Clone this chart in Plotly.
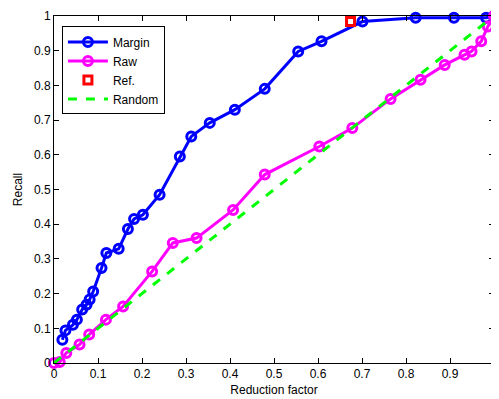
import plotly.graph_objects as go

margin_x = [0.019, 0.026, 0.043, 0.052, 0.064, 0.074, 0.081, 0.089, 0.108, 0.119, 0.147, 0.168, 0.182, 0.202,
            0.240, 0.286, 0.312, 0.354, 0.411, 0.479, 0.555, 0.608, 0.701, 0.822, 0.909, 0.982, 1.0]
margin_y = [0.067, 0.094, 0.110, 0.125, 0.154, 0.168, 0.183, 0.206, 0.274, 0.317, 0.329, 0.386, 0.415, 0.427,
            0.485, 0.595, 0.653, 0.692, 0.730, 0.790, 0.898, 0.927, 0.984, 0.995, 0.995, 0.995, 1.0]

raw_x = [0.0, 0.013, 0.028, 0.058, 0.080, 0.118, 0.157, 0.223, 0.270, 0.324, 0.407, 0.479, 0.603, 0.678,
         0.765, 0.833, 0.888, 0.933, 0.949, 0.971, 0.986, 1.0]
raw_y = [0.0, 0.003, 0.029, 0.053, 0.082, 0.125, 0.163, 0.264, 0.346, 0.360, 0.441, 0.543, 0.624, 0.677,
         0.761, 0.816, 0.859, 0.888, 0.898, 0.927, 0.970, 1.0]

ref_x = [0.674]
ref_y = [0.984]

random_x = [0.0, 1.0]
random_y = [0.0, 1.0]

xticks = [0, 0.1, 0.2, 0.3, 0.4, 0.5, 0.6, 0.7, 0.8, 0.9, 1]
yticks = [0, 0.1, 0.2, 0.3, 0.4, 0.5, 0.6, 0.7, 0.8, 0.9, 1]

fig = go.Figure()
fig.add_trace(go.Scatter(x=margin_x, y=margin_y, name="Margin", mode="lines+markers",
                         line=dict(color="#0000FF", width=3),
                         marker=dict(symbol="circle-open", size=9, color="#0000FF", line=dict(width=3)),
                         cliponaxis=False))
fig.add_trace(go.Scatter(x=raw_x, y=raw_y, name="Raw", mode="lines+markers",
                         line=dict(color="#FF00FF", width=3),
                         marker=dict(symbol="circle-open", size=9, color="#FF00FF", line=dict(width=3)),
                         cliponaxis=False))
fig.add_trace(go.Scatter(x=ref_x, y=ref_y, name="Ref.", mode="markers",
                         marker=dict(symbol="square-open", size=8, color="#FF0000", line=dict(width=3)),
                         cliponaxis=False))
fig.add_trace(go.Scatter(x=random_x, y=random_y, name="Random", mode="lines",
                         line=dict(color="#00FF00", width=3, dash="dash")))

axis_common = dict(showgrid=False, zeroline=False, showline=True, linecolor="black", linewidth=1,
                   mirror="allticks", ticks="inside", ticklen=5, tickcolor="black", automargin=False,
                   tickfont=dict(family="Liberation Sans, Arial, sans-serif", size=12, color="black"))

fig.update_xaxes(range=[0, 1], tickvals=xticks, ticktext=[str(t) for t in xticks],
                 title=dict(text="Reduction factor", font=dict(size=12, color="black"), standoff=5),
                 **axis_common)
fig.update_yaxes(range=[0, 1], tickvals=yticks, ticktext=[str(t) for t in yticks],
                 title=dict(text="Recall", font=dict(size=12, color="black"), standoff=8),
                 **axis_common)

fig.update_layout(width=491, height=391,
                  margin=dict(l=46, r=5, t=8, b=36),
                  plot_bgcolor="white", paper_bgcolor="white",
                  font=dict(family="Liberation Sans, Arial, sans-serif", size=12, color="black"),
                  legend=dict(x=0.018, y=0.97, xanchor="left", yanchor="top",
                              bgcolor="white", bordercolor="black", borderwidth=1,
                              font=dict(size=12), itemwidth=40, tracegroupgap=0))

fig.write_html("out.html")
